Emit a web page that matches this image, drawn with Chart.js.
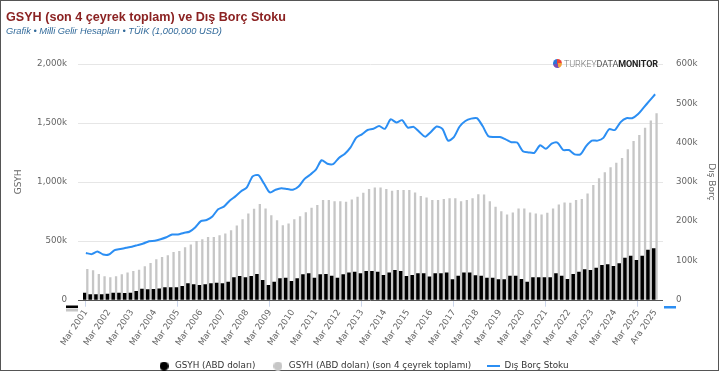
<!DOCTYPE html>
<html>
<head>
<meta charset="utf-8">
<script src="https://cdn.jsdelivr.net/npm/chart.js@4.4.1/dist/chart.umd.min.js"></script>
<style>
  body { margin: 0; background: #fff; width: 726px; height: 381px; overflow: hidden; }
  #frame { position: absolute; left: 0; top: 0; width: 717px; height: 369px; border: 1.5px solid #555; }
  #title { position: absolute; left: 6px; top: 10.8px; font: bold 12.6px "Liberation Sans", Arial, sans-serif; line-height: 1; color: #8b2222; white-space: nowrap; }
  #subtitle { position: absolute; left: 6px; top: 27px; font: italic 9.3px "Liberation Sans", Arial, sans-serif; line-height: 1; color: #336b9b; white-space: nowrap; }
  #logo { position: absolute; left: 553px; top: 58px; height: 11px; display: flex; align-items: center; font-family: Roboto, sans-serif; font-size: 9px; letter-spacing: -0.1px; white-space: nowrap; }
  #logo .icon { width: 9px; height: 9px; border-radius: 50%; margin-right: 2px;
    background: conic-gradient(#e8413c 0 25%, #f2a23a 0 45%, #7a4fb0 0 70%, #2d74d8 0 100%); }
  #logo .t1 { color: #777; font-weight: 300; }
  #logo .t2 { color: #555; font-weight: 400; }
  #logo .t3 { color: #222; font-weight: 700; }
  #chart { position: absolute; left: 0; top: 0; }
</style>
</head>
<body>
<div id="frame"></div>
<canvas id="chart" width="726" height="381"></canvas>
<div id="title">GSYH (son 4 çeyrek toplam) ve Dış Borç Stoku</div>
<div id="subtitle">Grafik • Milli Gelir Hesapları • TÜİK (1,000,000 USD)</div>
<div id="logo"><span class="icon"></span><span class="t1">TURKEY</span><span class="t2">DATA</span><span class="t3">MONITOR</span></div>

<script>
// quarters Mar 2001 .. Ara 2025, values in thousands of million USD (k)
const years = [2001, 2002, 2003, 2004, 2005, 2006, 2007, 2008, 2009, 2010, 2011, 2012, 2013,
  2014, 2015, 2016, 2017, 2018, 2019, 2020, 2021, 2022, 2023, 2024, 2025];
const quarterNames = ["Mar", "Haz", "Eyl", "Ara"];

const gdpQuarter = [
  56, 44, 44, 44, 48, 56, 57, 55, 56, 70,
  90, 85, 88, 92, 102, 103, 102, 113, 136, 128,
  122, 128, 136, 142, 136, 150, 187, 198, 187, 198,
  215, 164, 122, 150, 179, 184, 156, 179, 213, 221,
  184, 213, 216, 201, 184, 213, 227, 235, 221, 241,
  241, 235, 207, 227, 249, 241, 198, 207, 221, 221,
  193, 221, 221, 227, 170, 201, 227, 227, 204, 201,
  184, 184, 170, 170, 201, 201, 173, 150, 187, 187,
  187, 187, 221, 201, 173, 215, 235, 255, 249, 269,
  292, 298, 283, 306, 354, 371, 334, 371, 420, 434
];

const gdpLast4 = [
  261, 249, 219, 199, 191, 199, 215, 230, 243, 255,
  283, 312, 343, 363, 377, 405, 414, 445, 468, 499,
  513, 533, 533, 547, 562, 590, 630, 683, 732, 771,
  811, 774, 717, 675, 632, 647, 683, 709, 743, 780,
  803, 845, 845, 836, 836, 831, 851, 873, 907, 939,
  953, 953, 939, 924, 931, 931, 931, 910, 879, 868,
  845, 845, 854, 860, 860, 836, 845, 860, 894, 893,
  836, 788, 751, 723, 740, 774, 774, 740, 732, 723,
  737, 774, 808, 825, 823, 845, 854, 902, 973, 1030,
  1081, 1123, 1163, 1202, 1276, 1347, 1398, 1460, 1520, 1583
];

const externalDebt = [
  119, 116, 123, 115, 115, 126, 129, 132, 135, 139,
  143, 149, 150, 154, 159, 166, 166, 170, 173, 184,
  200, 203, 212, 230, 237, 252, 263, 276, 286, 314,
  317, 295, 273, 280, 284, 282, 280, 288, 307, 318,
  331, 355, 346, 345, 361, 371, 387, 412, 421, 432,
  435, 442, 435, 459, 451, 457, 438, 440, 427, 415,
  427, 441, 435, 405, 414, 441, 455, 461, 462, 442,
  416, 414, 414, 408, 401, 400, 378, 375, 374, 393,
  384, 397, 400, 381, 381, 370, 370, 391, 405, 405,
  412, 434, 432, 452, 462, 462, 472, 489, 506, 523
];

const leftTicks = [0, 500, 1000, 1500, 2000];
const rightTicks = [0, 100, 200, 300, 400, 500, 600];

const labels = [];
years.forEach(y => quarterNames.forEach(q => labels.push(q + " " + y)));

const BLACK = "#000000";
const GREY = "#c6c6c6";
const BLUE = "#2b8ef3";
const FONT = "'DejaVu Sans', sans-serif";

function showTick(i) {
  return i % 4 === 0 || i === labels.length - 1;
}

function makeSymbol(kind, color) {
  const c = document.createElement("canvas");
  const g = c.getContext("2d");
  if (kind === "circle") {
    c.width = 9; c.height = 9;
    g.fillStyle = color;
    g.beginPath(); g.arc(4.5, 4.5, 4.5, 0, Math.PI * 2); g.fill();
  } else {
    c.width = 13; c.height = 2;
    g.fillStyle = color;
    g.fillRect(0, 0, 13, 2);
  }
  return c;
}

const symbols = [makeSymbol("circle", BLACK), makeSymbol("circle", GREY), makeSymbol("line", BLUE)];

const frameLines = {
  id: "frameLines",
  beforeDatasetsDraw(chart) {
    const { ctx, chartArea, scales } = chart;
    ctx.save();
    ctx.strokeStyle = "#e6e6e6";
    ctx.lineWidth = 1;
    leftTicks.forEach(v => {
      if (v === 0) return;
      const py = Math.round(scales.y.getPixelForValue(v)) + 0.5;
      ctx.beginPath();
      ctx.moveTo(chartArea.left - 5, py);
      ctx.lineTo(chartArea.right + 5, py);
      ctx.stroke();
    });
    ctx.restore();
  },
  afterDatasetsDraw(chart) {
    const { ctx, chartArea, scales } = chart;
    const py = Math.round(scales.y.getPixelForValue(0)) + 0.5;
    ctx.save();
    ctx.strokeStyle = "#555";
    ctx.lineWidth = 1;
    ctx.beginPath();
    ctx.moveTo(chartArea.left - 5, py);
    ctx.lineTo(chartArea.right + 5, py);
    ctx.stroke();
    // little series markers under the axes
    ctx.fillStyle = BLACK;
    ctx.fillRect(chartArea.left - 17, py + 5, 12, 2.5);
    ctx.fillStyle = GREY;
    ctx.fillRect(chartArea.left - 17, py + 8, 12, 3);
    ctx.fillStyle = BLUE;
    ctx.fillRect(chartArea.right + 6, py + 5.5, 12, 2.5);
    ctx.restore();
  }
};

new Chart(document.getElementById("chart"), {
  type: "bar",
  data: {
    labels: labels,
    datasets: [
      {
        label: "GSYH (ABD doları)",
        data: gdpQuarter,
        backgroundColor: BLACK,
        yAxisID: "y",
        barPercentage: 1.0,
        categoryPercentage: 1.0,
        order: 1
      },
      {
        label: "GSYH (ABD doları) (son 4 çeyrek toplamı)",
        data: gdpLast4,
        backgroundColor: GREY,
        yAxisID: "y",
        barPercentage: 0.8,
        categoryPercentage: 1.0,
        order: 2
      },
      {
        type: "line",
        label: "Dış Borç Stoku",
        data: externalDebt,
        borderColor: BLUE,
        backgroundColor: BLUE,
        borderWidth: 2,
        pointRadius: 0,
        tension: 0.25,
        yAxisID: "y1",
        order: 0
      }
    ]
  },
  options: {
    responsive: false,
    animation: false,
    layout: { padding: { top: 64, left: 0, right: 0, bottom: 0.5 } },
    plugins: {
      tooltip: { enabled: false },
      legend: {
        position: "bottom",
        labels: {
          font: { family: FONT, size: 8.8 },
          color: "#333",
          usePointStyle: true,
          pointStyleWidth: 13,
          boxHeight: 9,
          padding: 16,
          generateLabels: function (chart) {
            return chart.data.datasets.map((ds, i) => ({
              text: ds.label,
              fillStyle: ds.backgroundColor,
              strokeStyle: ds.backgroundColor,
              lineWidth: 0,
              pointStyle: symbols[i],
              fontColor: "#333",
              datasetIndex: i,
              hidden: false
            }));
          }
        }
      }
    },
    scales: {
      x: {
        offset: true,
        grid: {
          offset: false,
          drawOnChartArea: false,
          drawTicks: true,
          tickLength: 7,
          color: ctx => showTick(ctx.index) ? "#ccd6eb" : "rgba(0,0,0,0)"
        },
        border: { display: false },
        ticks: {
          autoSkip: false,
          minRotation: 56,
          maxRotation: 56,
          padding: 1,
          color: "#666",
          font: { family: FONT, size: 8.7 },
          callback: function (value, index) {
            return showTick(index) ? this.getLabelForValue(value) : null;
          }
        },
        afterFit: function (scale) { scale.height = 46; }
      },
      y: {
        position: "left",
        min: 0,
        max: 2000,
        afterBuildTicks: function (scale) { scale.ticks = leftTicks.map(v => ({ value: v })); },
        grid: { display: false, drawTicks: false },
        border: { display: false },
        ticks: {
          padding: 16,
          color: "#666",
          font: { family: FONT, size: 8.7 },
          callback: v => v === 0 ? "0" : v.toLocaleString("en-US") + "k"
        },
        title: {
          display: true,
          text: "GSYH",
          color: "#666",
          font: { family: FONT, size: 9 },
          padding: { top: 13.5, bottom: 0 }
        },
        afterFit: function (scale) { scale.width = 83; }
      },
      y1: {
        position: "right",
        min: 0,
        max: 600,
        afterBuildTicks: function (scale) { scale.ticks = rightTicks.map(v => ({ value: v })); },
        grid: { display: false, drawTicks: false },
        border: { display: false },
        ticks: {
          padding: 18,
          color: "#666",
          font: { family: FONT, size: 8.7 },
          callback: v => v === 0 ? "0" : v.toLocaleString("en-US") + "k"
        },
        title: {
          display: true,
          text: "Dış Borç",
          color: "#666",
          font: { family: FONT, size: 9 },
          padding: { top: 9.5, bottom: 0 }
        },
        afterFit: function (scale) { scale.width = 68; }
      }
    }
  },
  plugins: [frameLines]
});
</script>
</body>
</html>
